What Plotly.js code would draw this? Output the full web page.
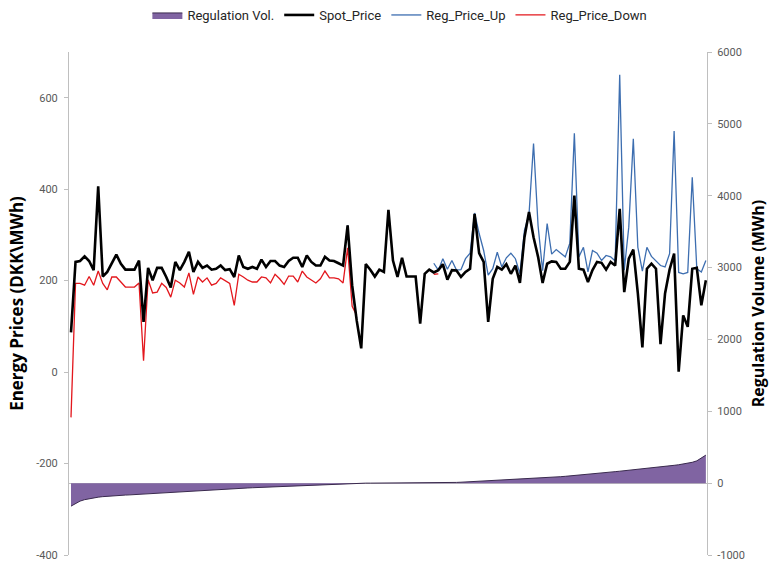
<!DOCTYPE html>
<html>
<head>
<meta charset="utf-8">
<script src="https://cdn.plot.ly/plotly-3.0.1.min.js"></script>
<style>html,body{margin:0;padding:0;background:#fff;}#chart{width:769px;height:566px;}</style>
</head>
<body>
<div id="chart"></div>
<script>
// Spot price (DKK/MWh), one value per hour
const spotPrice = [87,241,243,253,243,223,406,209,219,237,257,237,224,224,224,244,110,228,201,228,228,208,185,241,223,241,263,219,241,228,233,224,226,233,223,225,
208,255,230,226,230,226,246,230,243,243,233,230,243,250,250,230,255,241,233,233,252,244,243,238,233,321,190,113,52,236,224,209,224,219,355,
244,208,250,209,209,209,106,215,224,218,223,236,202,223,222,208,219,226,346,260,241,110,204,230,224,236,215,233,195,295,350,295,252,195,237,242,
241,226,226,241,386,226,224,197,223,241,239,224,241,233,357,175,248,268,172,54,226,237,226,61,172,224,259,1,124,99,226,228,146,201];

// Up-regulation price (null where equal to / hidden by spot)
const regPriceUp = [null,null,null,null,null,null,null,null,null,null,null,null,null,null,null,null,null,null,null,null,
null,null,null,null,null,null,null,null,null,null,null,null,null,null,null,null,null,null,null,null,
null,null,null,null,null,null,null,null,null,null,null,null,null,null,null,null,null,null,null,null,
null,321,175,118,null,null,null,null,null,null,null,null,null,null,null,null,null,null,null,null,
238,223,248,225,244,223,224,248,260,348,303,266,212,226,262,230,250,260,248,215,
310,345,500,320,222,325,258,268,260,252,282,522,252,273,219,266,260,244,255,252,
243,650,223,317,510,273,221,273,253,244,233,230,259,527,218,215,218,426,226,219,244];

// Down-regulation price
const regPriceDown = [-99,194,194,190,209,190,221,194,180,208,208,197,186,186,186,195,25,202,173,175,194,185,164,201,195,186,217,170,208,197,206,190,194,206,199,194,
146,214,208,201,197,197,208,206,195,214,204,192,210,210,197,221,208,201,195,204,221,206,206,204,195,272,144,124,
null,null,null,null,null,null,null,null,null,null,null,null,null,null,null,null,
214,215,
null,null,null,null,null,null,null,null,null,null,null,null,null,null,null,null,null,null,null,null,
null,null,null,null,null,null,null,null,null,null,null,null,null,null,null,null,null,null,null,null,
null,null,null,null,null,null,null,null,null,null,null,null,null,null,null,null,null,null,null];

// Regulation volume (MWh), sorted
const regulationVol = [-320,-280,-250,-230,-215,-205,-195,-188,-182,-178,-174,-170,-166,-163,-159,-155,-151,-147,-143,-139,
-135,-131,-127,-123,-119,-114,-110,-106,-102,-98,-94,-91,-88,-85,-82,-79,-76,-73,-70,-67,
-64,-61,-58,-55,-52,-49,-46,-43,-41,-38,-35,-33,-30,-28,-25,-22,-19,-16,-13,-10,
-7,-4,-2,0,0,0,0,0,0,0,0,0,0,0,0,0,0,0,0,0,
0,2,4,6,8,10,13,16,19,22,25,28,31,34,37,40,43,46,49,52,
56,60,64,68,72,76,80,85,90,95,100,106,112,118,124,130,136,142,148,154,
160,166,172,178,184,190,197,204,211,218,225,232,240,248,256,265,275,290,310,350,390];

const hours = [];
for (let i = 1; i <= spotPrice.length; i++) hours.push(i);

const leftTicks = [-400,-200,0,200,400,600];
const rightTicks = [-1000,0,1000,2000,3000,4000,5000,6000];

const traces = [
  {x: hours, y: regulationVol, name: 'Regulation Vol.', type: 'scatter', mode: 'lines',
   yaxis: 'y2', fill: 'tozeroy', fillcolor: '#8064a2', line: {color: '#3a2a4e', width: 1},
   legendrank: 1},
  {x: hours, y: regPriceUp, name: 'Reg_Price_Up', type: 'scatter', mode: 'lines',
   line: {color: '#3d6eb0', width: 1.3}, connectgaps: false, legendrank: 3},
  {x: hours, y: regPriceDown, name: 'Reg_Price_Down', type: 'scatter', mode: 'lines',
   line: {color: '#e3171d', width: 1.3}, connectgaps: false, legendrank: 4},
  {x: hours, y: spotPrice, name: 'Spot_Price', type: 'scatter', mode: 'lines',
   line: {color: '#000000', width: 2.6}, legendrank: 2}
];

const tickFont = {family: 'Roboto, "Liberation Sans", sans-serif', size: 11, color: '#595959'};

const layout = {
  width: 769, height: 566,
  margin: {l: 69, r: 62, t: 52, b: 11},
  paper_bgcolor: '#ffffff', plot_bgcolor: '#ffffff',
  showlegend: true,
  legend: {orientation: 'h', xref: 'container', yref: 'container', x: 0.52, xanchor: 'center',
           y: 1.0, yanchor: 'top', traceorder: 'normal', itemwidth: 30,
           font: {family: 'Roboto, "Liberation Sans", sans-serif', size: 13, color: '#262626'}},
  xaxis: {range: [0.56, 141.25], showticklabels: false, ticks: '', showgrid: false,
          zeroline: false, showline: false},
  yaxis: {range: [-400, 700], tickvals: leftTicks, ticktext: leftTicks.map(String),
          showgrid: false, zeroline: false, showline: true, linecolor: '#bfbfbf', linewidth: 1,
          ticks: 'outside', ticklen: 4, tickcolor: '#bfbfbf', tickfont: tickFont, ticklabelstandoff: 4,
          title: {text: 'Energy Prices (DKK\\MWh)', standoff: 8,
                  font: {family: '"Open Sans", "Liberation Sans", sans-serif', size: 17, color: '#000', weight: 'bold'}}},
  yaxis2: {range: [-1000, 6000], tickvals: rightTicks, ticktext: rightTicks.map(String),
           overlaying: 'y', side: 'right', showgrid: false,
           zeroline: true, zerolinecolor: '#bfbfbf', zerolinewidth: 1,
           showline: true, linecolor: '#bfbfbf', linewidth: 1,
           ticks: 'outside', ticklen: 4, tickcolor: '#bfbfbf', tickfont: tickFont, ticklabelstandoff: 3,
           title: {text: 'Regulation Volume (MWh)', standoff: 10,
                   font: {family: '"Open Sans", "Liberation Sans", sans-serif', size: 16, color: '#000', weight: 'bold'}}}
};

Plotly.newPlot('chart', traces, layout, {displayModeBar: false, staticPlot: true});
</script>
</body>
</html>
